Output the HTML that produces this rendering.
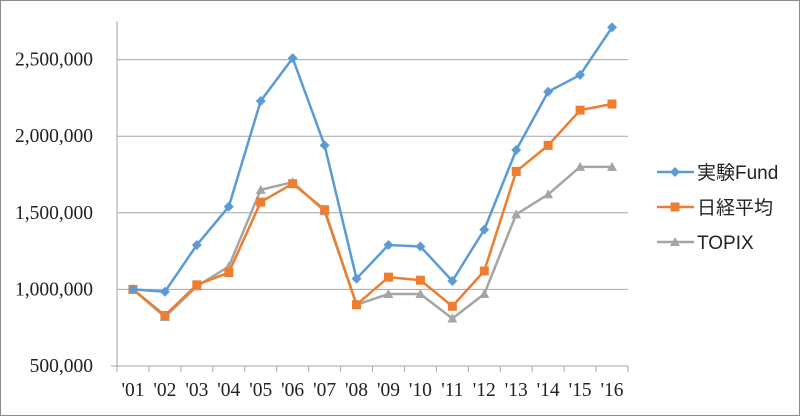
<!DOCTYPE html>
<html><head><meta charset="utf-8"><style>
html,body{margin:0;padding:0;background:#fff}
svg{display:block}
</style></head><body>
<svg width="800" height="416" xmlns="http://www.w3.org/2000/svg">
<rect x="0.5" y="0.5" width="799" height="415" fill="#fff" stroke="#8c8c8c"/>
<g id="grid"></g><g id="axes"></g><g id="series"></g><g id="legend"></g>
</svg>
<script>
const categories=["'01","'02","'03","'04","'05","'06","'07","'08","'09","'10","'11","'12","'13","'14","'15","'16"];
const fundValues=[1000000,985000,1290000,1540000,2230000,2510000,1940000,1070000,1290000,1280000,1055000,1390000,1910000,2290000,2400000,2710000];
const nikkeiValues=[1000000,830000,1030000,1110000,1570000,1690000,1520000,900000,1080000,1060000,890000,1120000,1770000,1940000,2170000,2210000];
const topixValues=[1000000,820000,1020000,1150000,1650000,1700000,1510000,900000,970000,970000,810000,970000,1490000,1620000,1800000,1800000];
const yTicks=[500000,1000000,1500000,2000000,2500000];
const yTickLabels=["500,000","1,000,000","1,500,000","2,000,000","2,500,000"];
const seriesNames=["実験Fund","日経平均","TOPIX"];

const NS="http://www.w3.org/2000/svg";
const L=117,R=628,T=21,B=366;
const yMin=500000,yPer=76.6/500000;
function yScale(v){return B-(v-yMin)*yPer;}
const step=(R-L)/categories.length;
function xScale(i){return L+step*(i+0.5);}
function mk(tag,attrs,parent){const e=document.createElementNS(NS,tag);for(const k in attrs)e.setAttribute(k,attrs[k]);parent.appendChild(e);return e;}
const grid=document.getElementById('grid'),axes=document.getElementById('axes'),ser=document.getElementById('series'),leg=document.getElementById('legend');

yTicks.forEach((v,i)=>{
  const y=yScale(v);
  if(i>0){const g=mk('line',{x1:L,x2:R,y1:y,y2:y,stroke:'#a6a6a6','stroke-width':1},grid);
  
  }
  const t=mk('text',{x:93,y:y+6,'text-anchor':'end','font-family':'Liberation Serif, serif','font-size':19.5,fill:'#222'},axes);
  t.textContent=yTickLabels[i];
  
  
});
const ya=mk('line',{x1:L,x2:L,y1:T,y2:B,stroke:'#a6a6a6'},axes);


const xa=mk('line',{x1:L-6,x2:R,y1:B,y2:B,stroke:'#a6a6a6'},axes);


for(let i=0;i<=categories.length;i++){
  const x=L+step*i;
  const tk=mk('line',{x1:x,x2:x,y1:B,y2:B+6,stroke:'#a6a6a6'},axes);
  
  
}
categories.forEach((c,i)=>{
  const t=mk('text',{x:xScale(i),y:396,'text-anchor':'middle','font-family':'Liberation Serif, serif','font-size':19.5,fill:'#222'},axes);
  t.textContent=c;
  
  
});

function marker(type,x,y,color,parent){
  let e;
  if(type==='diamond')e=mk('polygon',{points:`${x},${y-5} ${x+5},${y} ${x},${y+5} ${x-5},${y}`,fill:color},parent);
  else if(type==='square')e=mk('rect',{x:x-4.5,y:y-4.5,width:9,height:9,fill:color},parent);
  else e=mk('polygon',{points:`${x},${y-5} ${x+5},${y+4} ${x-5},${y+4}`,fill:color},parent);
  return e;
}
const seriesList=[[topixValues,'#a5a5a5','triangle','topix'],[nikkeiValues,'#ed7d31','square','nikkei'],[fundValues,'#5b9bd5','diamond','fund']];
seriesList.forEach(([vals,color,mt,nm])=>{
  const g=mk('g',{},ser);
  
  
  const pl=mk('polyline',{points:vals.map((v,i)=>xScale(i)+','+yScale(v)).join(' '),fill:'none',stroke:color,'stroke-width':2.5,'stroke-linejoin':'round'},g);
  
  
  vals.forEach((v,i)=>{
    const m=marker(mt,xScale(i),yScale(v),color,g);
    
    
  });
});

const legendItems=[[fundValues,'#5b9bd5','diamond',172],[nikkeiValues,'#ed7d31','square',207],[topixValues,'#a5a5a5','triangle',242]];
legendItems.forEach(([_,color,mt,y],i)=>{
  const g=mk('g',{},leg);
  
  
  mk('line',{x1:657,x2:694,y1:y,y2:y,stroke:color,'stroke-width':2.5},g);
  marker(mt,675,y,color,g);
  const t=mk('text',{x:697,y:y+7,'font-family':'Liberation Sans, Noto Sans CJK JP, sans-serif','font-size':19,fill:'#222'},g);
  t.textContent=seriesNames[i];
});
</script>
</body></html>
